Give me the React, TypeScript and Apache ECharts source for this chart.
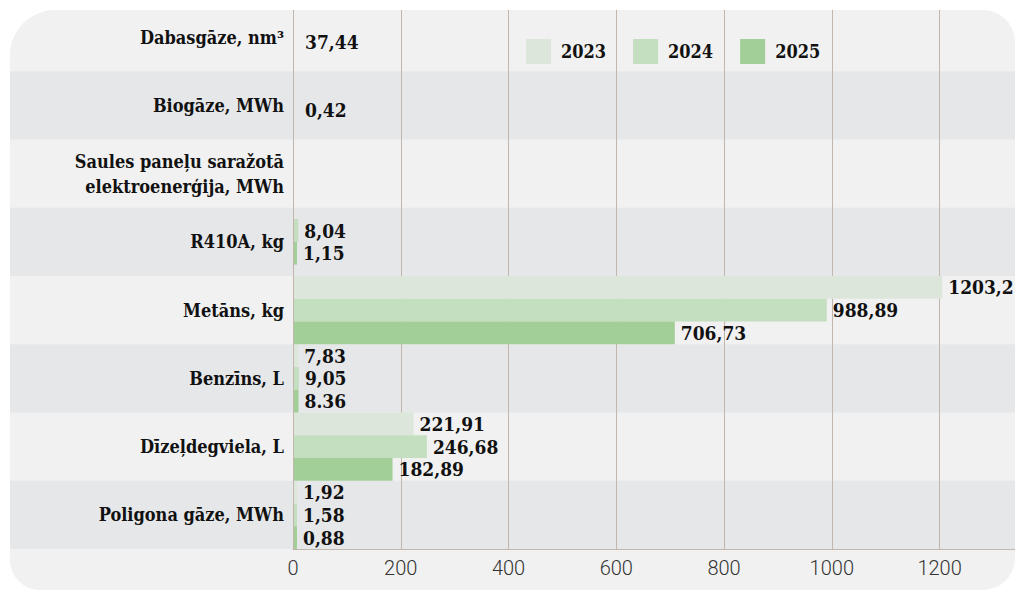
import React, { useEffect, useRef } from "react";
import * as echarts from "echarts";

const categories = [
  "Dabasgāze, nm³",
  "Biogāze, MWh",
  "Saules paneļu saražotā\nelektroenerģija, MWh",
  "R410A, kg",
  "Metāns, kg",
  "Benzīns, L",
  "Dīzeļdegviela, L",
  "Poligona gāze, MWh",
];

const years = ["2023", "2024", "2025"];
const values2023 = [null, null, null, null, 1203.2, 7.83, 221.91, 1.92];
const values2024 = [null, null, null, 8.04, 988.89, 9.05, 246.68, 1.58];
const values2025 = [null, null, null, 1.15, 706.73, 8.36, 182.89, 0.88];
const labels2023 = ["", "", "", "", "1203,2", "7,83", "221,91", "1,92"];
const labels2024 = ["", "", "", "8,04", "988,89", "9,05", "246,68", "1,58"];
const labels2025 = ["", "", "", "1,15", "706,73", "8.36", "182,89", "0,88"];
// values shown as text only (no bar drawn in the reference)
const noteValues = [37.44, 0.42, null, null, null, null, null, null];
const noteLabels = ["37,44", "0,42", "", "", "", "", "", ""];

const xTicks = [0, 200, 400, 600, 800, 1000, 1200];

const colors = ["#dce6da", "#c4dec0", "#a2ce98"];
const SERIF = '"DejaVu Serif Condensed", "DejaVu Serif", serif';

const yearValues = [values2023, values2024, values2025];
const yearLabels = [labels2023, labels2024, labels2025];

function makeRender(s: number) {
  return (params: any, api: any) => {
    const v = api.value(0);
    const cat = api.value(1);
    const present = yearValues.map((a) => a[cat] != null);
    const n = present.filter(Boolean).length;
    const k = present.slice(0, s).filter(Boolean).length;
    const base = api.coord([0, cat]);
    const end = api.coord([v, cat]);
    const band = api.size([0, 1])[1];
    const h = band / 3;
    const y0 = base[1] - (n * h) / 2 + k * h;
    const w = Math.max(end[0] - base[0], 3);
    return {
      type: "rect",
      shape: { x: base[0] + 1, y: y0, width: w, height: h },
      style: { fill: colors[s] },
      textContent: {
        style: {
          text: yearLabels[s][cat],
          fill: "#111",
          fontFamily: SERIF,
          fontWeight: "bold",
          fontSize: 19,
        },
      },
      textConfig: { position: "right", distance: 6 },
    };
  };
}

export default function App() {
  const ref = useRef<HTMLDivElement>(null);
  useEffect(() => {
    if (!ref.current) return;
    const chart = echarts.init(ref.current, undefined, { renderer: "svg" });
    const yearSeries = years.map((name, s) => ({
      type: "custom",
      name,
      xAxisIndex: 1,
      yAxisIndex: 1,
      color: colors[s],
      itemStyle: { color: colors[s] },
      encode: { x: 0, y: 1 },
      renderItem: makeRender(s),
      data: yearValues[s]
        .map((v, i) => (v == null ? null : [v, i]))
        .filter((d) => d != null),
      z: 3,
    }));
    const noteSeries = {
      type: "custom",
      name: "notes",
      xAxisIndex: 1,
      yAxisIndex: 1,
      encode: { x: 0, y: 1 },
      renderItem: (params: any, api: any) => {
        const cat = api.value(1);
        const base = api.coord([0, cat]);
        return {
          type: "text",
          x: base[0] + 12,
          y: base[1] + 5,
          style: {
            text: noteLabels[cat],
            fill: "#111",
            fontFamily: SERIF,
            fontWeight: "bold",
            fontSize: 19,
            verticalAlign: "middle",
          },
        };
      },
      data: noteValues
        .map((v, i) => (v == null ? null : [v, i]))
        .filter((d) => d != null),
      z: 3,
    };
    chart.setOption({
      animation: false,
      graphic: [
        {
          type: "rect",
          z: -10,
          silent: true,
          shape: { x: 10, y: 10, width: 1005, height: 580, r: [45, 32, 32, 30] },
          style: { fill: "#f1f1f1" },
        },
        {
          type: "rect",
          z: 100,
          silent: true,
          shape: { x: 0, y: 0, width: 1015, height: 10 },
          style: { fill: "#ffffff" },
        },
      ],
      legend: {
        data: years,
        left: 521,
        top: 34,
        icon: "rect",
        itemWidth: 25,
        itemHeight: 25,
        itemGap: 27,
        textStyle: {
          fontFamily: SERIF,
          fontWeight: "bold",
          fontSize: 18,
          color: "#111",
          padding: [0, 0, 0, 5],
        },
      },
      grid: [
        { left: 10, right: 0, top: 3, bottom: 43, containLabel: false },
        { left: 293, right: -3, top: 3, bottom: 43, containLabel: false },
      ],
      xAxis: [
        { type: "value", gridIndex: 0, show: false, min: 0, max: 1 },
        {
          type: "value",
          gridIndex: 1,
          min: 0,
          max: 1340,
          interval: 200,
          axisLine: { show: true, lineStyle: { color: "#c2b6ad", width: 1 } },
          axisTick: { show: false },
          splitLine: { show: true, lineStyle: { color: "#c2b6ad", width: 1 } },
          axisLabel: {
            showMaxLabel: false,
            margin: 9,
            color: "#333",
            fontFamily: "Roboto",
            fontWeight: 300,
            fontSize: 20,
            formatter: (v: number) => (xTicks.includes(v) ? String(v) : ""),
          },
        },
      ],
      yAxis: [
        {
          type: "category",
          gridIndex: 0,
          data: categories,
          inverse: true,
          axisLine: { show: false },
          axisTick: { show: false },
          axisLabel: { show: false },
          splitArea: {
            show: true,
            areaStyle: { color: ["rgba(0,0,0,0)", "#e6e7e9"] },
          },
        },
        {
          type: "category",
          gridIndex: 1,
          data: categories,
          inverse: true,
          axisLine: { show: true, lineStyle: { color: "#c2b6ad", width: 1 } },
          axisTick: { show: false },
          splitLine: { show: false },
          axisLabel: {
            margin: 9,
            color: "#111",
            fontFamily: SERIF,
            fontWeight: "bold",
            fontSize: 18,
            lineHeight: 25,
            align: "right",
          },
        },
      ],
      series: [...yearSeries, noteSeries],
    });
    return () => chart.dispose();
  }, []);
  return (
    <div
      ref={ref}
      style={{ position: "absolute", left: 0, top: 0, width: 1015, height: 592 }}
    />
  );
}
